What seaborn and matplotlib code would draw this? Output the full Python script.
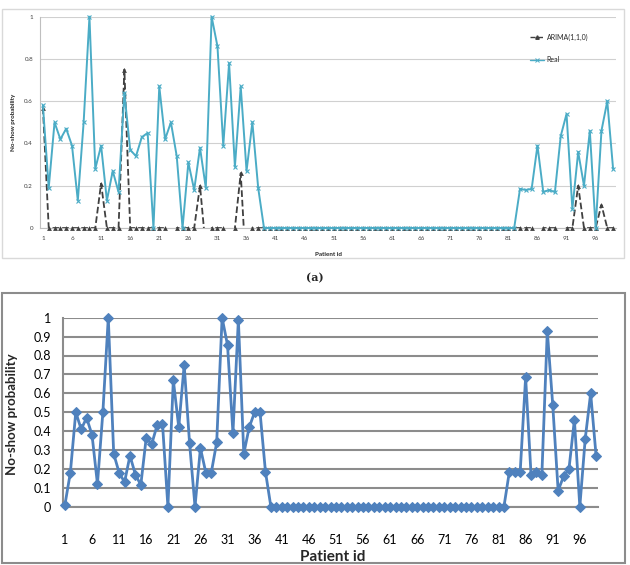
import numpy as np
import pandas as pd
import matplotlib
matplotlib.use('Agg')
import matplotlib.pyplot as plt
from matplotlib.lines import Line2D
from matplotlib.patches import Rectangle
import seaborn as sns

# data
patient_id = list(range(1, 100))

# (a) real no-show probability vs ARIMA(1,1,0) forecast
real_a = [0.58, 0.19, 0.50, 0.42, 0.47, 0.39, 0.13, 0.50, 1.0, 0.28,
          0.39, 0.13, 0.27, 0.17, 0.64, 0.37, 0.34, 0.43, 0.45, 0.0,
          0.67, 0.42, 0.50, 0.34, 0.0, 0.31, 0.18, 0.38, 0.19, 1.0,
          0.86, 0.39, 0.78, 0.29, 0.67, 0.27, 0.50, 0.19, 0.0] + [0.0] * 43 + \
         [0.185, 0.18, 0.185, 0.39, 0.17, 0.18, 0.17, 0.435, 0.54, 0.09,
          0.36, 0.20, 0.46, 0.0, 0.46, 0.60, 0.28]

# negative forecasts fall below the axis and are cut off (as in the original)
arima_a = [0.57] + [0.0] * 9 + [0.21] + [0.0] * 3 + [0.75] + [0.0] * 7 + \
          [-0.1] + [0.0] * 4 + [0.20, -0.1, 0.0, 0.0, 0.0, -0.1, 0.0, 0.26, -0.24] + \
          [0.0] * 49 + [-0.1, 0.0, 0.0, 0.0, -0.1, 0.0, 0.0, 0.20, 0.0, 0.0, 0.0, 0.11, 0.0, 0.0]

# (b) no-show probability
real_b = [0.01, 0.18, 0.50, 0.41, 0.47, 0.38, 0.12, 0.50, 1.0, 0.28,
          0.18, 0.13, 0.27, 0.17, 0.115, 0.365, 0.33, 0.43, 0.44, 0.0,
          0.67, 0.42, 0.75, 0.335, 0.0, 0.31, 0.18, 0.18, 0.34, 1.0,
          0.855, 0.39, 0.99, 0.28, 0.42, 0.50, 0.50, 0.185, 0.0] + [0.0] * 43 + \
         [0.185, 0.185, 0.185, 0.685, 0.17, 0.185, 0.17, 0.93, 0.54, 0.085,
          0.16, 0.20, 0.46, 0.0, 0.36, 0.60, 0.27]

xtick_ids = list(range(1, 100, 5))
yticks_a = [0, 0.2, 0.4, 0.6, 0.8, 1]
ylabels_a = ['0', '0.2', '0.4', '0.6', '0.8', '1']
yticks_b = [i / 10 for i in range(11)]
ylabels_b = ['0', '0.1', '0.2', '0.3', '0.4', '0.5', '0.6', '0.7', '0.8', '0.9', '1']

sns.set_style('white')
plt.rcParams['font.family'] = ['Lato', 'DejaVu Sans']

fig = plt.figure(figsize=(6.3, 5.65), dpi=100)
W, H = 630, 565

# frames round the two charts
fig.patches.append(Rectangle((2 / W, 1 - 258 / H), 622 / W, 249 / H, transform=fig.transFigure,
                             fill=False, ec='#d9d9d9', lw=1))
fig.patches.append(Rectangle((2 / W, 1 - 563 / H), 623 / W, 270 / H, transform=fig.transFigure,
                             fill=False, ec='#8c8c8c', lw=1.5))

# ---------- (a) ----------
df_a = pd.DataFrame({'id': patient_id, 'arima': arima_a, 'real': real_a})
teal = '#4BACC6'
dark = '#404040'

ax1 = fig.add_axes([40 / W, 1 - 228 / H, 576 / W, 211.3 / H])
sns.lineplot(data=df_a, x='id', y='arima', ax=ax1, color=dark, lw=1.3, linestyle='--', zorder=2)
pos = df_a[df_a['arima'] >= 0]
sns.scatterplot(data=pos, x='id', y='arima', ax=ax1, color=dark, marker='^', s=12,
                linewidth=0, clip_on=False, zorder=3)
sns.lineplot(data=df_a, x='id', y='real', ax=ax1, color=teal, lw=1.4, marker='x',
             markersize=3, mew=0.8, mec=teal, clip_on=False, zorder=4)

ax1.set_xlim(0.5, 99.5)
ax1.set_ylim(0, 1)
ax1.set_yticks(yticks_a)
ax1.set_yticklabels(ylabels_a)
ax1.set_xticks(xtick_ids)
ax1.set_xticklabels([str(i) for i in xtick_ids])
ax1.tick_params(axis='both', labelsize=4.5, length=0, colors='#404040')
ax1.tick_params(axis='y', pad=5)
ax1.tick_params(axis='x', pad=6)
ax1.yaxis.grid(True, color='#d0d0d0', lw=0.8)
ax1.xaxis.grid(False)
for s in ['top', 'right']:
    ax1.spines[s].set_visible(False)
ax1.spines['left'].set_color('#bfbfbf')
ax1.spines['bottom'].set_color('#bfbfbf')
ax1.set_xlabel('Patient id', fontsize=4.5, weight='bold')
ax1.set_ylabel('No-show probability', fontsize=4.5, weight='bold')
ax1.xaxis.set_label_coords(0.5, -0.114)
ax1.yaxis.set_label_coords(-0.042, 0.5)

handles = [Line2D([], [], color=dark, ls='--', marker='^', ms=2.5, lw=1),
           Line2D([], [], color=teal, marker='x', ms=2.5, mew=0.7, lw=1)]
ax1.legend(handles, ['ARIMA(1,1,0)', 'Real'], loc='upper left', bbox_to_anchor=(0.84, 0.95),
           frameon=False, fontsize=5, labelspacing=2.2, handlelength=2, handletextpad=0.4)

fig.text(0.5, 1 - 278 / H, '(a)', ha='center', va='center', family='DejaVu Serif',
         weight='bold', fontsize=8)

# ---------- (b) ----------
df_b = pd.DataFrame({'id': patient_id, 'real': real_b})
blue = '#4F81BD'

ax2 = fig.add_axes([63.3 / W, 1 - 506.7 / H, 534.4 / W, 189 / H])
sns.lineplot(data=df_b, x='id', y='real', ax=ax2, color=blue, lw=2, marker='D',
             markersize=5.5, mec=blue, clip_on=False, zorder=4)

ax2.set_xlim(0.7, 99.3)
ax2.set_ylim(0, 1)
ax2.set_yticks(yticks_b)
ax2.set_yticklabels(ylabels_b)
ax2.set_xticks(xtick_ids)
ax2.set_xticklabels([str(i) for i in xtick_ids])
ax2.set_xticks(patient_id, minor=True)
ax2.tick_params(axis='both', labelsize=9, colors='#8c8c8c', labelcolor='black')
ax2.tick_params(axis='y', length=3, width=1.2, pad=6)
ax2.tick_params(axis='x', which='both', length=3, width=1.2, pad=17)
ax2.yaxis.grid(True, color='#8c8c8c', lw=1.5)
ax2.xaxis.grid(False)
for s in ['top', 'right']:
    ax2.spines[s].set_visible(False)
ax2.spines['left'].set_color('#8c8c8c')
ax2.spines['left'].set_linewidth(1.5)
ax2.spines['bottom'].set_color('#8c8c8c')
ax2.spines['bottom'].set_linewidth(1.5)
ax2.set_xlabel('Patient id', fontsize=11, weight='bold')
ax2.set_ylabel('No-show probability', fontsize=9.5, weight='bold')
ax2.xaxis.set_label_coords(0.505, -0.229)
ax2.yaxis.set_label_coords(-0.0857, 0.49)

fig.savefig('out.png', dpi=100)
